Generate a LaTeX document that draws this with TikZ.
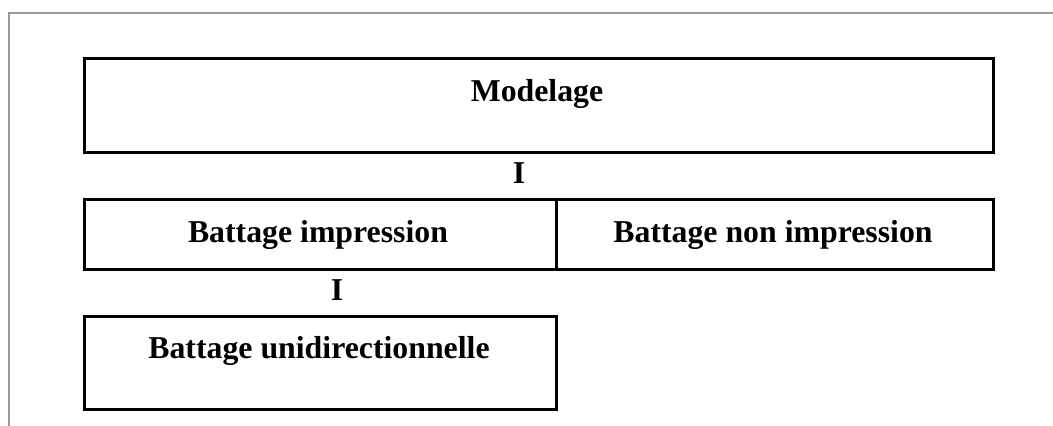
\documentclass[tikz,border=0pt]{standalone}
\usepackage{fontspec}
\setmainfont{Liberation Serif}
\begin{document}
\begin{tikzpicture}[x=1pt,y=-1pt,
  box/.style={draw=black,line width=3pt,minimum height=#1,inner sep=0pt,anchor=north west},
  lbl/.style={font=\fontsize{31.8}{36}\selectfont\bfseries,anchor=base,inner sep=0pt},
  frameline/.style={draw=black!40,line width=2pt}]
\useasboundingbox (0,0) rectangle (1053,426);
\draw[frameline] (1053,13) -- (9,13) -- (9,426);
% boxes
\node[box=94pt,minimum width=909.5pt] (mod) at (82.5,57.3) {};
\node[box=70pt,minimum width=472.8pt] (imp) at (82.5,197.5) {};
\node[box=70pt,minimum width=436.7pt] (nimp) at (555.3,197.5) {};
\node[box=93pt,minimum width=472.8pt] (uni) at (82.5,314.5) {};
% texts
\node[lbl] (tmod) at (537,101) {Modelage};
\node[lbl] (i1) at (519,183) {I};
\node[lbl] (timp) at (318,242) {Battage impression};
\node[lbl] (tnimp) at (773,242) {Battage non impression};
\node[lbl] (i2) at (337,300) {I};
\node[lbl] (tuni) at (319,358) {Battage unidirectionnelle};
\end{tikzpicture}
\end{document}
